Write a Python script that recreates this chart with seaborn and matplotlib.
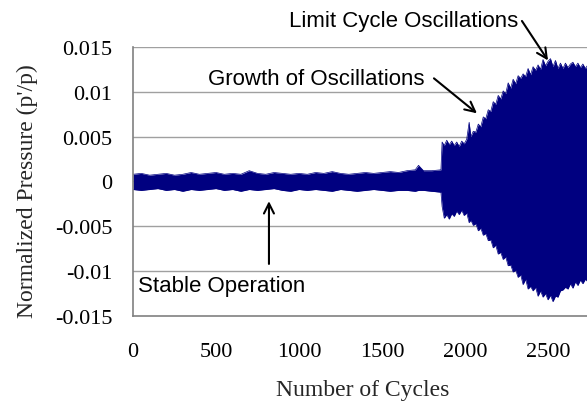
import numpy as np
import pandas as pd
import matplotlib
matplotlib.use("Agg")
import matplotlib.pyplot as plt
import seaborn as sns

# envelope of the pressure trace (values x 1e-3)
cycles = [
    0, 50, 100, 150, 200, 250, 300, 350, 400, 450, 500, 550, 600, 650, 700,
    750, 800, 850, 900, 950, 1000, 1050, 1100, 1150, 1200, 1250, 1300, 1350,
    1400, 1450, 1500, 1550, 1600, 1650, 1700, 1720, 1750, 1800, 1855,
    1862, 1875, 1890, 1905, 1920, 1935, 1950, 1965, 1980, 1995,
    2010, 2025, 2035, 2050, 2065, 2080, 2095, 2110, 2125, 2140,
    2155, 2170, 2185, 2200, 2215, 2230, 2245, 2260, 2275, 2290,
    2305, 2320, 2335, 2350, 2365, 2380, 2395, 2410, 2425, 2440,
    2455, 2470, 2485, 2500, 2515, 2530, 2545, 2560, 2575, 2590,
    2605, 2620, 2635, 2650, 2665, 2680, 2695, 2710, 2725, 2740,
    2760,
]
upper = [
    0.8, 0.9, 0.7, 0.8, 0.9, 0.7, 0.8, 1.0, 0.8, 0.9, 1.0, 0.8, 0.9, 0.8, 1.2,
    0.9, 0.8, 1.0, 0.9, 0.8, 0.9, 0.8, 1.0, 0.9, 1.1, 0.9, 0.8, 0.9,
    1.0, 0.9, 1.0, 1.1, 1.0, 1.2, 1.3, 1.8, 1.2, 1.2, 1.3,
    4.4, 4.0, 4.6, 4.1, 4.5, 4.0, 4.4, 3.9, 4.5, 4.2,
    4.7, 6.6, 5.0, 5.6, 5.5, 6.4, 6.1, 7.2, 7.0, 8.0,
    7.8, 8.9, 8.6, 9.6, 9.2, 10.1, 9.8, 11.0, 10.4, 11.4,
    10.9, 11.8, 11.5, 12.0, 11.7, 12.6, 11.9, 12.8, 12.4, 13.0,
    12.5, 13.6, 12.9, 13.4, 13.7, 12.8, 13.5, 12.6, 13.2, 12.6,
    13.2, 12.7, 13.1, 13.3, 12.8, 13.2, 12.7, 13.1, 12.6, 13.0,
    12.8,
]
lower = [
    -0.9, -1.0, -0.9, -0.8, -1.0, -0.9, -1.1, -0.9, -1.0, -0.9, -0.8, -1.0,
    -0.9, -1.1, -0.9, -1.0, -0.9, -0.8, -1.0, -1.1, -0.9, -1.0, -0.9, -1.0,
    -1.1, -0.9, -1.0, -1.1, -1.0, -0.9, -1.0, -1.1, -1.0, -1.0, -1.1, -1.0,
    -1.0, -1.1, -1.2,
    -2.8, -4.1, -3.7, -4.2, -3.6, -3.9, -3.3, -3.7, -3.2, -3.8,
    -3.5, -4.6, -4.3, -4.9, -4.7, -5.5, -5.2, -6.0, -5.8, -6.6,
    -6.5, -7.4, -7.1, -8.1, -7.9, -8.7, -8.4, -9.4, -9.3, -10.1,
    -9.9, -10.7, -10.4, -11.5, -10.9, -12.0, -11.7, -12.2, -11.8, -12.8,
    -12.2, -12.9, -12.5, -13.2, -12.7, -13.4, -12.8, -12.9, -12.2, -12.1,
    -11.8, -12.0, -11.4, -11.9, -11.2, -11.6, -11.0, -11.4, -10.9, -11.2,
    -11.0,
]

y_ticks = [-0.015, -0.01, -0.005, 0, 0.005, 0.01, 0.015]
y_tick_labels = ["-0.015", "-0.01", "-0.005", "0", "0.005", "0.01", "0.015"]
x_ticks = [0, 500, 1000, 1500, 2000, 2500]

NAVY = "#000080"
SERIF = ["Liberation Serif", "DejaVu Serif"]

df = pd.DataFrame({
    "cycles": cycles,
    "upper": np.array(upper) * 1e-3,
    "lower": np.array(lower) * 1e-3,
})

sns.set_theme(style="white")
plt.rcParams["font.family"] = SERIF

fig = plt.figure(figsize=(5.87, 4.10), dpi=100)
ax = fig.add_axes([133 / 587, 0.227, 498 / 587, 0.656])

ax.fill_between(df["cycles"], df["lower"], df["upper"], color=NAVY, lw=0)
sns.lineplot(data=df, x="cycles", y="upper", ax=ax, color=NAVY, lw=0.5)
sns.lineplot(data=df, x="cycles", y="lower", ax=ax, color=NAVY, lw=0.5)

ax.set_xlim(0, 3000)
ax.set_ylim(-0.015, 0.015)
ax.set_yticks(y_ticks)
ax.set_yticklabels(y_tick_labels)
ax.set_xticks(x_ticks)
ax.set_xticklabels([str(t) for t in x_ticks])

for y in y_ticks[1:]:
    ax.axhline(y, color="#a0a0a0", lw=1, zorder=0)

for side in ["top", "right"]:
    ax.spines[side].set_visible(False)
for side in ["left", "bottom"]:
    ax.spines[side].set_color("#808080")
    ax.spines[side].set_linewidth(1.2)

ax.tick_params(axis="both", which="major", direction="out", length=6,
               width=1.2, color="#808080", labelsize=16, labelcolor="black")
ax.tick_params(axis="y", pad=9)
ax.tick_params(axis="x", pad=13)
for lbl in ax.get_xticklabels() + ax.get_yticklabels():
    lbl.set_family(SERIF)

ax.set_xlabel("Number of Cycles", fontsize=17, family=SERIF)
ax.xaxis.set_label_coords(0.462, -0.272)
ax.xaxis.label.set_va("center")
ax.set_ylabel("Normalized Pressure (p'/p)", fontsize=17, family=SERIF)
ax.yaxis.set_label_coords(-0.213, 0.469)
ax.yaxis.label.set_va("center")

note_font = dict(family="Liberation Sans", fontsize=16, color="black")
ax.text(30, -0.0116, "Stable Operation", ha="left", va="center", **note_font)
ax.text(452, 0.0115, "Growth of Oscillations", ha="left", va="center", **note_font)
ax.text(940, 0.0180, "Limit Cycle Oscillations", ha="left", va="center",
        clip_on=False, **note_font)

arrow = dict(arrowstyle="->", color="black", lw=1.5, mutation_scale=18,
             shrinkA=0, shrinkB=0)
ax.annotate("", xy=(819, -0.0022), xytext=(819, -0.0092), arrowprops=arrow)
ax.annotate("", xy=(2072, 0.0076), xytext=(1813, 0.0115), arrowprops=arrow)
ax.annotate("", xy=(2500, 0.0135), xytext=(2343, 0.0179), arrowprops=arrow,
            annotation_clip=False)

fig.savefig("out.png", dpi=100)
